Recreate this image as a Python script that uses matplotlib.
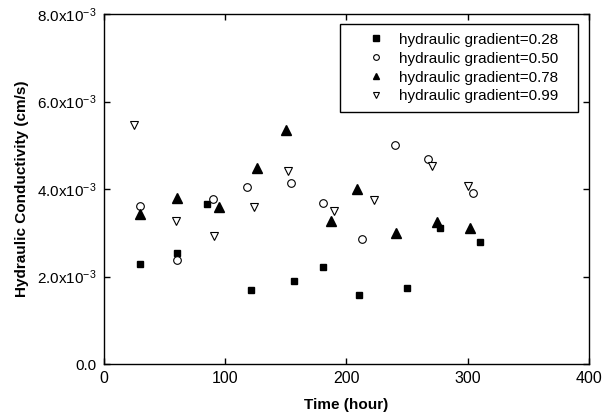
import matplotlib

matplotlib.use("Agg")
import matplotlib.pyplot as plt
import numpy as np
from matplotlib.ticker import FuncFormatter

plt.rcParams["font.family"] = ["Liberation Sans", "DejaVu Sans"]
plt.rcParams["mathtext.fontset"] = "custom"
plt.rcParams["mathtext.rm"] = "Liberation Sans"
plt.rcParams["mathtext.it"] = "Liberation Sans"
plt.rcParams["mathtext.bf"] = "Liberation Sans:bold"

# hydraulic conductivity in units of 1e-3 cm/s
t_028 = [30, 60, 85, 121, 157, 181, 210, 250, 277, 310]
k_028 = [2.28, 2.53, 3.66, 1.69, 1.89, 2.22, 1.58, 1.73, 3.12, 2.79]

t_050 = [30, 60.5, 90, 118, 154.5, 180.5, 213, 240, 267.5, 304]
k_050 = [3.62, 2.38, 3.78, 4.05, 4.13, 3.69, 2.86, 5.02, 4.69, 3.91]

t_078 = [30, 60, 95, 126, 150.5, 187, 209, 241, 274.5, 302]
k_078 = [3.43, 3.80, 3.59, 4.49, 5.36, 3.26, 4.01, 2.99, 3.24, 3.10]

t_099 = [24.5, 59.5, 91, 123.5, 152, 190, 222.5, 270.5, 300.5]
k_099 = [5.46, 3.26, 2.92, 3.59, 4.42, 3.49, 3.76, 4.53, 4.08]

labels = [
    "hydraulic gradient=0.28",
    "hydraulic gradient=0.50",
    "hydraulic gradient=0.78",
    "hydraulic gradient=0.99",
]


def fmt_k(val, pos):
    if abs(val) < 1e-12:
        return "0.0"
    return "{0:.1f}x10$^{{-3}}$".format(val * 1e3)


fig = plt.figure(figsize=(6.11, 4.17), dpi=100)
ax = fig.add_axes([0.170, 0.127, 0.794, 0.839])

ax.plot(np.array(t_028), np.array(k_028) * 1e-3, ls="none", marker="s",
        ms=5, mfc="black", mec="black", label=labels[0])
ax.plot(np.array(t_050), np.array(k_050) * 1e-3, ls="none", marker="o",
        ms=5.5, mfc="white", mec="black", mew=0.8, label=labels[1])
ax.plot(np.array(t_078), np.array(k_078) * 1e-3, ls="none", marker="^",
        ms=6.5, mfc="black", mec="black", label=labels[2])
ax.plot(np.array(t_099), np.array(k_099) * 1e-3, ls="none", marker="v",
        ms=6, mfc="white", mec="black", mew=0.8, label=labels[3])

ax.set_xlim(0, 400)
ax.set_ylim(0, 8e-3)
ax.set_xticks([0, 100, 200, 300, 400])
ax.set_yticks([0, 2e-3, 4e-3, 6e-3, 8e-3])
ax.yaxis.set_major_formatter(FuncFormatter(fmt_k))
ax.tick_params(direction="in", length=4, width=1, top=True, right=True,
               labelsize=11, pad=5)
ax.tick_params(axis="x", labelsize=11.5)
for sp in ax.spines.values():
    sp.set_linewidth(1.0)

ax.set_xlabel("Time (hour)", fontsize=11, fontweight="bold", labelpad=9)
ax.set_ylabel("Hydraulic Conductivity (cm/s)", fontsize=11,
              fontweight="bold", labelpad=6)

leg = ax.legend(
    loc="upper left",
    bbox_to_anchor=(0.487, 0.72, 0.49, 0.251),
    mode="expand",
    borderaxespad=0,
    fontsize=11,
    frameon=True,
    fancybox=False,
    edgecolor="black",
    framealpha=1,
    numpoints=1,
    markerscale=0.75,
    handlelength=3.6,
    handletextpad=-0.3,
    borderpad=0.55,
    labelspacing=0.32,
)
leg.get_frame().set_linewidth(1.0)

fig.savefig("out.png", dpi=100)
